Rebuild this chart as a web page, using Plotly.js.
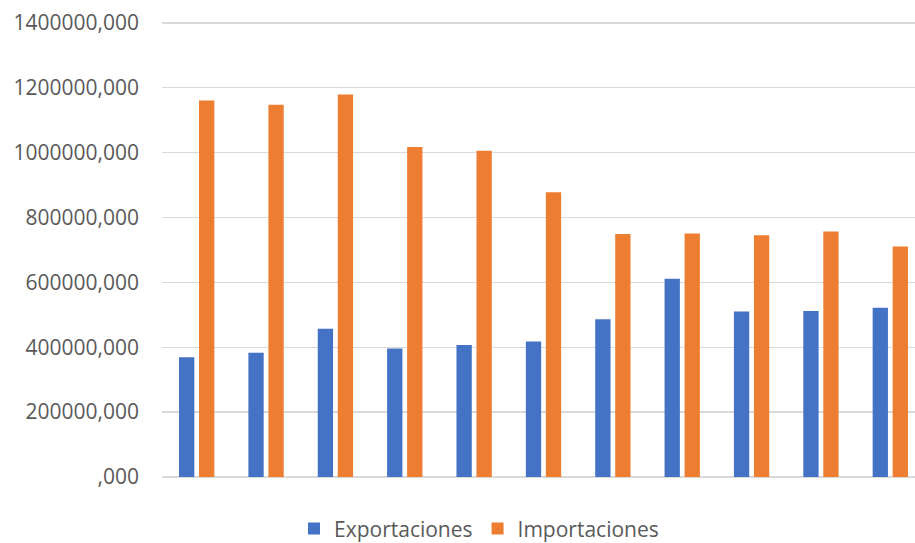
<!DOCTYPE html>
<html>
<head>
<meta charset="utf-8">
<script src="https://cdn.plot.ly/plotly-3.0.1.min.js"></script>
<style>html,body{margin:0;padding:0;background:#fff;}#chart{width:915px;height:543px;}</style>
</head>
<body>
<div id="chart"></div>
<script>
const categories = ['1','2','3','4','5','6','7','8','9','10','11'];
const exportaciones = [369000, 383000, 457000, 396000, 407000, 418000, 486000, 611000, 510000, 512000, 522000];
const importaciones = [1161000, 1148000, 1179000, 1017000, 1006000, 878000, 749000, 751000, 745000, 757000, 711000];
const tickValues = [0, 200000, 400000, 600000, 800000, 1000000, 1200000, 1400000];
const tickLabels = [',000', '200000,000', '400000,000', '600000,000', '800000,000', '1000000,000', '1200000,000', '1400000,000'];

const FONT = 'Open Sans, Liberation Sans, sans-serif';
const data = [
  {type:'bar', name:'Exportaciones', x:categories, y:exportaciones, marker:{color:'#4472C4'}, hoverinfo:'none'},
  {type:'bar', name:'Importaciones', x:categories, y:importaciones, marker:{color:'#ED7D31'}, hoverinfo:'none'}
];
const layout = {
  width:915, height:543,
  margin:{l:162, r:0, t:19, b:66, pad:0},
  paper_bgcolor:'#fff', plot_bgcolor:'#fff',
  barmode:'group', bargap:0.423, bargroupgap:0.235,
  font:{family:FONT, size:21, color:'#595959'},
  xaxis:{type:'category', range:[-0.5, 10.356], showticklabels:false, showgrid:false, zeroline:false, showline:false, ticks:''},
  yaxis:{range:[0, 1412000], tickvals:tickValues, ticktext:tickLabels, showgrid:true, gridcolor:'#D9D9D9', gridwidth:1.3,
         zeroline:true, zerolinecolor:'#D9D9D9', zerolinewidth:1.3, showline:false, ticks:'', ticklabelstandoff:22,
         tickfont:{family:FONT, size:21, color:'#595959'}},
  showlegend:true,
  legend:{orientation:'h', xref:'container', yref:'container', x:0.5235, xanchor:'center', y:0.026, yanchor:'middle',
          font:{family:FONT, size:21, color:'#595959'}, itemwidth:30, bgcolor:'rgba(0,0,0,0)'}
};
Plotly.newPlot('chart', data, layout, {staticPlot:true, displayModeBar:false});
</script>
</body>
</html>
